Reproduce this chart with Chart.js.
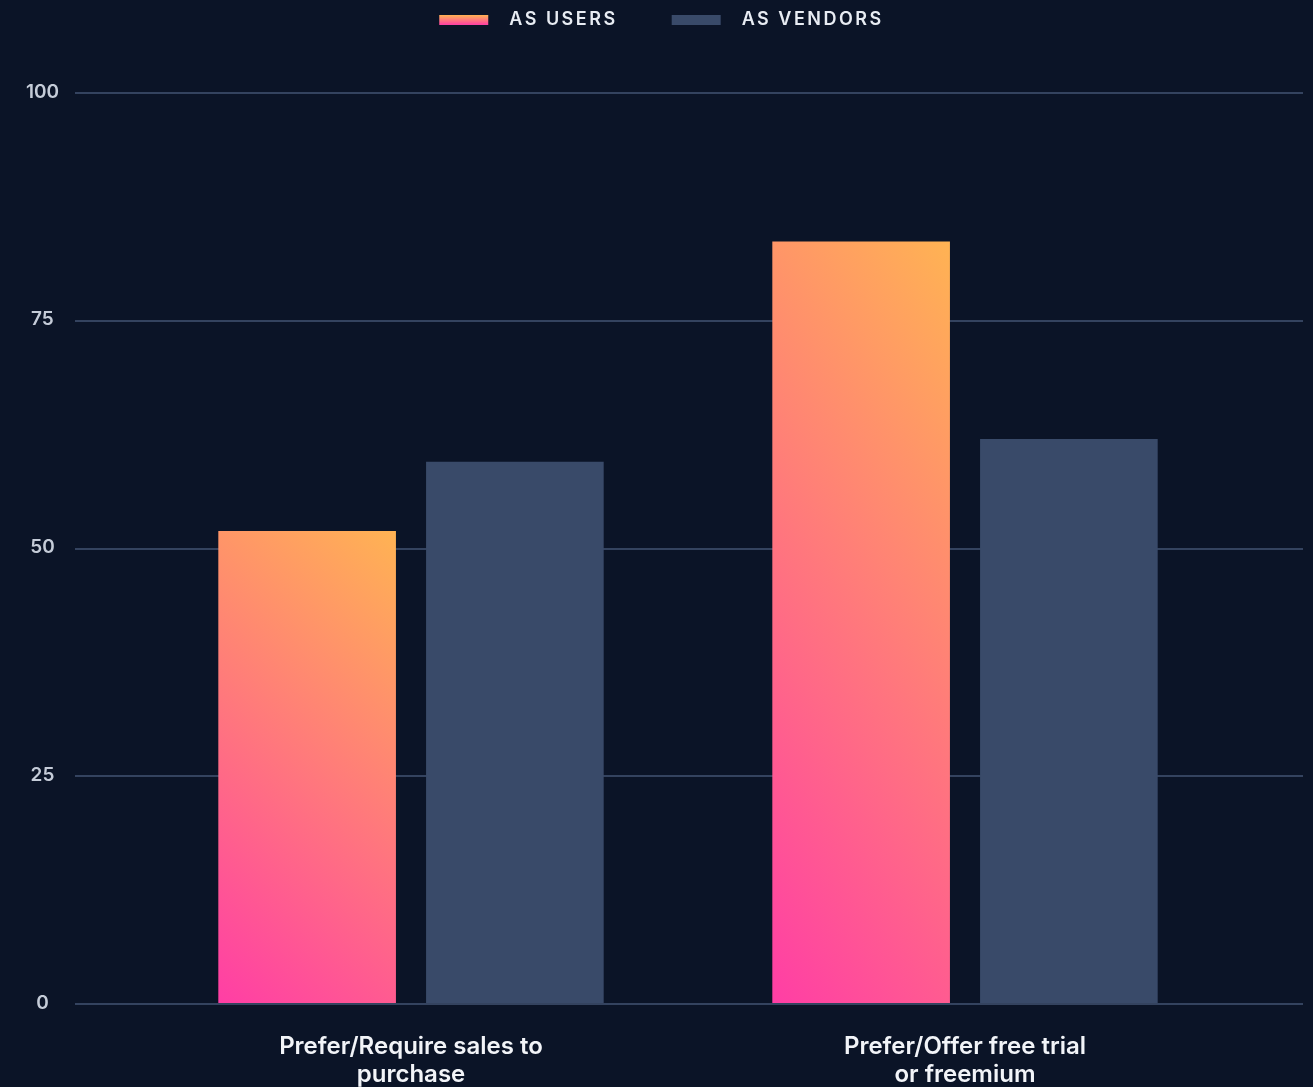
<!DOCTYPE html>
<html>
<head>
<meta charset="utf-8">
<script src="https://cdn.jsdelivr.net/npm/chart.js@4"></script>
<style>
  html, body { margin: 0; padding: 0; background: #0b1427; overflow: hidden; }
  #wrap { position: relative; width: 1313px; height: 1094px; }
</style>
</head>
<body>
<div id="wrap"><canvas id="chart"></canvas></div>
<script>
// Data
const categories = [['Prefer/Require sales to', 'purchase'], ['Prefer/Offer free trial', 'or freemium']];
const seriesNames = ['AS USERS', 'AS VENDORS'];
const usersValues = [51.8, 83.6];
const vendorsValues = [59.4, 61.9];
const yTicks = [0, 25, 50, 75, 100];

// Colours
const PINK = '#ff3ea5';
const ORANGE = '#ffb353';
const VENDOR = '#394a69';
const GRID = '#34435f';
const FONT = "Inter, 'Noto Sans', sans-serif";

// Legend swatch drawn into a small canvas (transparent margins give the spacing)
function makeSwatch(paint) {
    const c = document.createElement('canvas');
    c.width = 104;
    c.height = 10;
    const g = c.getContext('2d');
    g.fillStyle = paint(g);
    g.fillRect(43, 0, 49, 10);
    return c;
}
const usersSwatch = makeSwatch(g => {
    const grad = g.createLinearGradient(0, 0, 0, 10);
    grad.addColorStop(0, ORANGE);
    grad.addColorStop(1, PINK);
    return grad;
});
const vendorsSwatch = makeSwatch(() => VENDOR);

// Extended horizontal grid lines behind the bars
const gridLines = {
    id: 'gridLines',
    beforeDatasetsDraw(chart) {
        const { ctx, chartArea } = chart;
        const y = chart.scales.y;
        ctx.save();
        ctx.strokeStyle = GRID;
        ctx.lineWidth = 2;
        y.ticks.forEach(t => {
            const py = Math.round(y.getPixelForValue(t.value)) + 1;
            ctx.beginPath();
            ctx.moveTo(chartArea.left - 59, py);
            ctx.lineTo(chartArea.right + 61, py);
            ctx.stroke();
        });
        ctx.restore();
    }
};

// Per-bar diagonal gradient for the users series
const barGradient = {
    id: 'barGradient',
    afterDatasetsUpdate(chart) {
        const meta = chart.getDatasetMeta(0);
        meta.data.forEach(el => {
            const { x, y, base, width } = el.getProps(['x', 'y', 'base', 'width'], true);
            const h = base - y;
            const gx = 0.25 / width, gy = 0.75 / h, d = gx * gx + gy * gy;
            const x0 = x - width / 2;
            const grad = chart.ctx.createLinearGradient(x0, base, x0 + gx / d, base - gy / d);
            grad.addColorStop(0, PINK);
            grad.addColorStop(1, ORANGE);
            el.options = Object.assign({}, el.options, { backgroundColor: grad });
        });
    }
};

// Legend: letter spacing, small offset and fixed height
const legendTweaks = {
    id: 'legendTweaks',
    beforeInit(chart) {
        const legend = chart.legend;
        const fit = legend.fit;
        const draw = legend.draw;
        legend.fit = function () {
            chart.ctx.letterSpacing = '2.5px';
            fit.call(this);
            chart.ctx.letterSpacing = '0px';
            this.height = 92;
        };
        legend.draw = function () {
            const ctx = chart.ctx;
            ctx.save();
            ctx.translate(19, 0);
            ctx.letterSpacing = '2.5px';
            draw.call(this);
            ctx.letterSpacing = '0px';
            ctx.restore();
        };
    }
};

new Chart(document.getElementById('chart'), {
    type: 'bar',
    data: {
        labels: categories,
        datasets: [
            {
                label: seriesNames[0],
                data: usersValues,
                backgroundColor: ORANGE,
                borderWidth: 0,
                categoryPercentage: 0.75,
                barPercentage: 0.855
            },
            {
                label: seriesNames[1],
                data: vendorsValues,
                backgroundColor: VENDOR,
                borderWidth: 0,
                categoryPercentage: 0.75,
                barPercentage: 0.855
            }
        ]
    },
    options: {
        responsive: true,
        maintainAspectRatio: false,
        animation: false,
        layout: { padding: { left: 0, right: 71, top: 0, bottom: 0 } },
        plugins: {
            tooltip: { enabled: false },
            legend: {
                position: 'top',
                labels: {
                    usePointStyle: true,
                    pointStyleWidth: 104,
                    boxHeight: 10,
                    padding: 11,
                    color: '#e8ecf3',
                    font: { family: FONT, size: 18, weight: '600' },
                    generateLabels: () => [
                        { text: seriesNames[0], pointStyle: usersSwatch, fontColor: '#e8ecf3', datasetIndex: 0, hidden: false, lineWidth: 0 },
                        { text: seriesNames[1], pointStyle: vendorsSwatch, fontColor: '#e8ecf3', datasetIndex: 1, hidden: false, lineWidth: 0 }
                    ]
                }
            }
        },
        scales: {
            x: {
                grid: { display: false },
                border: { display: false },
                ticks: {
                    color: '#f2f4f8',
                    font: { family: FONT, size: 24, weight: '600', lineHeight: 1.17 },
                    padding: 22,
                    maxRotation: 0,
                    autoSkip: false
                },
                afterFit(axis) { axis.height = 91; }
            },
            y: {
                min: 0,
                max: 100,
                grid: { display: false },
                border: { display: false },
                afterBuildTicks(axis) { axis.ticks = yTicks.map(v => ({ value: v })); },
                ticks: {
                    color: '#c5ccd8',
                    font: { family: FONT, size: 19, weight: '600' },
                    crossAlign: 'center',
                    padding: 67
                },
                afterFit(axis) { axis.width = 134; }
            }
        }
    },
    plugins: [gridLines, barGradient, legendTweaks]
});
</script>
</body>
</html>
